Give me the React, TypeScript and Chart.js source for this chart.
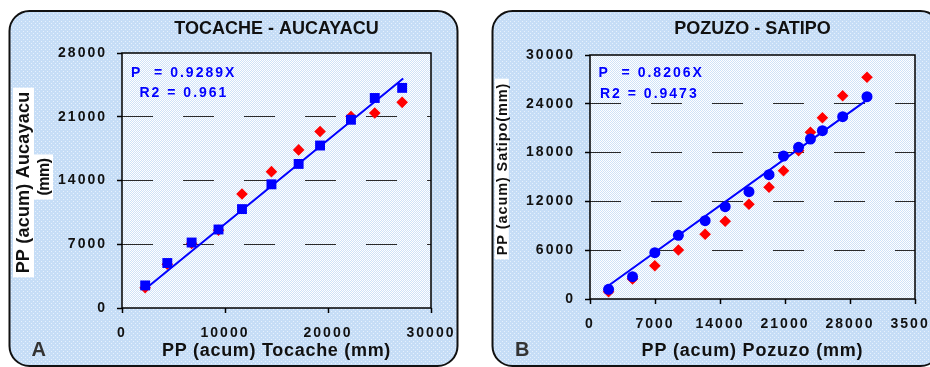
import React, { useEffect, useRef } from "react";
import { Chart, registerables } from "chart.js";

Chart.register(...registerables);

// ---------- Panel A : TOCACHE - AUCAYACU ----------
const tocacheX = [2250, 4400, 6760, 9370, 11650, 14510, 17150, 19230, 22230, 24540, 27200];
const aucayacuBlue = [2480, 4940, 7190, 8620, 10860, 13580, 15820, 17840, 20670, 23060, 24170];
const aucayacuRed = [2230, 4800, 7080, 8540, 12510, 14970, 17360, 19380, 21030, 21410, 22580];
const trendAX = [2200, 27300];
const trendAY = [2040, 25200];
const xTicksA = [0, 10000, 20000, 30000];
const yTicksA = [0, 7000, 14000, 21000, 28000];

// ---------- Panel B : POZUZO - SATIPO ----------
const pozuzoX = [2000, 4580, 6980, 9520, 12400, 14560, 17120, 19280, 20840, 22460, 23740, 25030, 27210, 29830];
const satipoBlue = [1193, 2742, 5693, 7832, 9627, 11348, 13193, 15283, 17582, 18651, 19672, 20693, 22414, 24873];
const satipoRed = [898, 2459, 4094, 6025, 7955, 9553, 11643, 13733, 15775, 18233, 20496, 22291, 24996, 27258];
const trendBX = [1900, 29800];
const trendBY = [1560, 24450];
const xTicksB = [0, 7000, 14000, 21000, 28000, 35000];
const yTicksB = [0, 6000, 12000, 18000, 24000, 30000];

const FONT = '"Liberation Sans", Arial, Helvetica, sans-serif';
const H = 367;

function makePattern(ctx: CanvasRenderingContext2D, size: number, base: string, dot: string, dots: number[][]) {
  const c = document.createElement("canvas");
  c.width = size;
  c.height = size;
  const g = c.getContext("2d")!;
  g.fillStyle = base;
  g.fillRect(0, 0, size, size);
  g.fillStyle = dot;
  dots.forEach(([x, y]) => g.fillRect(x, y, 1, 1));
  return ctx.createPattern(c, "repeat")!;
}

function roundRect(ctx: CanvasRenderingContext2D, x: number, y: number, w: number, h: number, r: number) {
  ctx.beginPath();
  ctx.moveTo(x + r, y);
  ctx.lineTo(x + w - r, y);
  ctx.arcTo(x + w, y, x + w, y + r, r);
  ctx.lineTo(x + w, y + h - r);
  ctx.arcTo(x + w, y + h, x + w - r, y + h, r);
  ctx.lineTo(x + r, y + h);
  ctx.arcTo(x, y + h, x, y + h - r, r);
  ctx.lineTo(x, y + r);
  ctx.arcTo(x, y, x + r, y, r);
  ctx.closePath();
}

type Spec = {
  width: number;
  area: { left: number; right: number; top: number; bottom: number };
  panel: { x: number; y: number; w: number; h: number; r: number };
  title: string;
  eq: { text: string; x: number; y: number }[];
  xTitle: string;
  xTitleSpacing: number;
  yTitles: { text: string; cx: number; cy: number; size: number; spacing: number; boxW: number }[];
  letter: string;
  letterX: number;
  xs: number[];
  blue: number[];
  red: number[];
  blueStyle: string;
  blueRadius: number;
  trendX: number[];
  trendY: number[];
  xTicks: number[];
  yTicks: number[];
};

function buildChart(canvas: HTMLCanvasElement, s: Spec) {
  const panelPlugin = {
    id: "panelDeco",
    beforeDraw(chart: any) {
      const ctx: CanvasRenderingContext2D = chart.ctx;
      const ca = chart.chartArea;
      ctx.save();
      const p = s.panel;
      roundRect(ctx, p.x, p.y, p.w, p.h, p.r);
      ctx.fillStyle = makePattern(ctx, 4, "#c6ddf6", "#e6f1fd", [[1, 1], [3, 3]]);
      ctx.fill();
      ctx.lineWidth = 2;
      ctx.strokeStyle = "#111";
      ctx.stroke();
      ctx.fillStyle = makePattern(ctx, 2, "#ffffff", "#cfe2f7", [[0, 1], [1, 0]]);
      ctx.fillRect(ca.left, ca.top, ca.right - ca.left, ca.bottom - ca.top);
      ctx.restore();
      (ctx as any).letterSpacing = "2px";
    },
    beforeDatasetsDraw(chart: any) {
      const ctx: CanvasRenderingContext2D = chart.ctx;
      const ca = chart.chartArea;
      ctx.save();
      ctx.lineWidth = 1.5;
      ctx.strokeStyle = "#000";
      ctx.strokeRect(ca.left, ca.top, ca.right - ca.left, ca.bottom - ca.top);
      ctx.restore();
    },
    afterDraw(chart: any) {
      const ctx: CanvasRenderingContext2D = chart.ctx;
      const ca = chart.chartArea;
      const cx = (ca.left + ca.right) / 2;
      const txt = (t: string, x: number, y: number, font: string, color: string, align: CanvasTextAlign, spacing: number) => {
        ctx.save();
        (ctx as any).letterSpacing = spacing + "px";
        ctx.font = font;
        ctx.fillStyle = color;
        ctx.textAlign = align;
        ctx.textBaseline = "alphabetic";
        ctx.fillText(t, x, y);
        ctx.restore();
      };
      (ctx as any).letterSpacing = "0px";
      txt(s.title, cx, 34, `bold 18px ${FONT}`, "#111", "center", 0);
      s.eq.forEach((e) => txt(e.text, e.x, e.y, `bold 14px ${FONT}`, "#0000ff", "left", 2));
      txt(s.xTitle, cx, 355.5, `bold 18px ${FONT}`, "#111", "center", s.xTitleSpacing);
      txt(s.letter, s.letterX, 355.5, `bold 20px ${FONT}`, "#333", "left", 0);
      s.yTitles.forEach((yt) => {
        ctx.save();
        ctx.translate(yt.cx, yt.cy);
        ctx.rotate(-Math.PI / 2);
        ctx.font = `bold ${yt.size}px ${FONT}`;
        (ctx as any).letterSpacing = yt.spacing + "px";
        const w = ctx.measureText(yt.text).width;
        ctx.fillStyle = "#ffffff";
        ctx.fillRect(-w / 2 - 4, -yt.boxW / 2, w + 8, yt.boxW);
        ctx.fillStyle = "#111";
        ctx.textAlign = "center";
        ctx.textBaseline = "middle";
        ctx.fillText(yt.text, 0, 1);
        ctx.restore();
      });
    },
  };

  const tickFont = { family: FONT, size: 14, weight: "bold" as const };
  const lastY = s.yTicks.length - 1;

  return new Chart(canvas, {
    type: "scatter",
    data: {
      datasets: [
        {
          label: "blue",
          data: s.xs.map((x, i) => ({ x, y: s.blue[i] })),
          pointStyle: s.blueStyle as any,
          pointRadius: s.blueRadius,
          backgroundColor: "#0000ff",
          borderColor: "#0000ff",
          borderWidth: 0,
          order: 0,
        },
        {
          label: "trend",
          data: s.trendX.map((x, i) => ({ x, y: s.trendY[i] })),
          showLine: true,
          pointRadius: 0,
          borderColor: "#0000ff",
          borderWidth: 2,
          order: 1,
        },
        {
          label: "red",
          data: s.xs.map((x, i) => ({ x, y: s.red[i] })),
          pointStyle: "rectRot",
          pointRadius: 5.8,
          backgroundColor: "#ff0000",
          borderColor: "#ff0000",
          borderWidth: 0,
          order: 2,
        },
      ],
    },
    options: {
      animation: false,
      responsive: false,
      devicePixelRatio: 1,
      events: [],
      layout: {
        autoPadding: false,
        padding: { left: 0, top: s.area.top, right: s.width - s.area.right, bottom: 0 },
      },
      plugins: { legend: { display: false }, tooltip: { enabled: false }, title: { display: false } },
      scales: {
        x: {
          type: "linear",
          min: s.xTicks[0],
          max: s.xTicks[s.xTicks.length - 1],
          afterBuildTicks: (sc: any) => {
            sc.ticks = s.xTicks.map((v) => ({ value: v }));
          },
          afterFit: (sc: any) => {
            sc.height = H - s.area.bottom;
          },
          ticks: {
            callback: (v: any) => String(v),
            font: tickFont,
            color: "#111",
            padding: 12,
            maxRotation: 0,
            autoSkip: false,
          },
          grid: { drawOnChartArea: false, drawTicks: true, tickLength: 5, tickColor: "#000", tickWidth: 1.5 },
          border: { display: false },
        },
        y: {
          type: "linear",
          min: s.yTicks[0],
          max: s.yTicks[lastY],
          afterBuildTicks: (sc: any) => {
            sc.ticks = s.yTicks.map((v) => ({ value: v }));
          },
          afterFit: (sc: any) => {
            sc.width = s.area.left;
          },
          ticks: {
            callback: (v: any) => String(v),
            font: tickFont,
            color: "#111",
            padding: 10,
          },
          grid: {
            drawOnChartArea: true,
            color: (c: any) => (c.index === 0 || c.index === lastY ? "rgba(0,0,0,0)" : "#2a2a2a"),
            lineWidth: 1,
            drawTicks: true,
            tickLength: 5,
            tickColor: "#000",
            tickWidth: 1.5,
          },
          border: { display: false, dash: [31, 30] },
        },
      },
    },
    plugins: [panelPlugin],
  } as any);
}

const specA: Spec = {
  width: 465,
  area: { left: 122, right: 431, top: 53, bottom: 308 },
  panel: { x: 9.5, y: 11, w: 448, h: 355, r: 20 },
  title: "TOCACHE - AUCAYACU",
  eq: [
    { text: "P  = 0.9289X", x: 131, y: 77 },
    { text: "R2 = 0.961", x: 139.5, y: 97 },
  ],
  xTitle: "PP (acum) Tocache (mm)",
  xTitleSpacing: 0.7,
  yTitles: [
    { text: "PP (acum) Aucayacu", cx: 23.5, cy: 182.5, size: 18, spacing: 0.2, boxW: 21 },
    { text: "(mm)", cx: 43.5, cy: 177, size: 16, spacing: -0.5, boxW: 19 },
  ],
  letter: "A",
  letterX: 31.5,
  xs: tocacheX,
  blue: aucayacuBlue,
  red: aucayacuRed,
  blueStyle: "rect",
  blueRadius: 7,
  trendX: trendAX,
  trendY: trendAY,
  xTicks: xTicksA,
  yTicks: yTicksA,
};

const specB: Spec = {
  width: 500,
  area: { left: 125, right: 450, top: 55, bottom: 299 },
  panel: { x: 27.5, y: 11, w: 448, h: 355, r: 20 },
  title: "POZUZO - SATIPO",
  eq: [
    { text: "P  = 0.8206X", x: 133.5, y: 77 },
    { text: "R2 = 0.9473", x: 135, y: 97.5 },
  ],
  xTitle: "PP (acum) Pozuzo (mm)",
  xTitleSpacing: 0.8,
  yTitles: [{ text: "PP (acum) Satipo(mm)", cx: 36.8, cy: 169, size: 14.5, spacing: 0.9, boxW: 14 }],
  letter: "B",
  letterX: 50,
  xs: pozuzoX,
  blue: satipoBlue,
  red: satipoRed,
  blueStyle: "circle",
  blueRadius: 5.5,
  trendX: trendBX,
  trendY: trendBY,
  xTicks: xTicksB,
  yTicks: yTicksB,
};

function Panel({ spec, left }: { spec: Spec; left: number }) {
  const ref = useRef<HTMLCanvasElement>(null);
  useEffect(() => {
    if (!ref.current) return;
    const chart = buildChart(ref.current, spec);
    return () => chart.destroy();
  }, [spec]);
  return (
    <canvas
      ref={ref}
      width={spec.width}
      height={H}
      style={{ position: "absolute", left, top: 0, width: spec.width, height: H, display: "block" }}
    />
  );
}

export default function App() {
  return (
    <div
      style={{
        position: "absolute",
        left: 0,
        top: 0,
        width: 930,
        height: H,
        overflow: "hidden",
        background: "#ffffff",
      }}
    >
      <Panel spec={specA} left={0} />
      <Panel spec={specB} left={465} />
    </div>
  );
}
